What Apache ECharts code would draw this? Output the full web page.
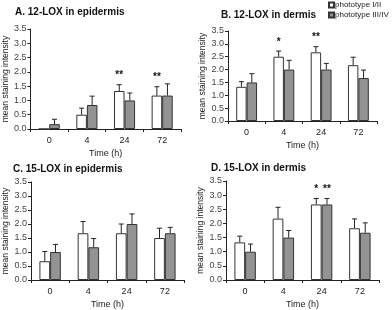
<!DOCTYPE html>
<html><head><meta charset="utf-8">
<script src="https://cdn.jsdelivr.net/npm/echarts@6/dist/echarts.min.js"></script>
<style>html,body{margin:0;padding:0;background:#fff}#c{width:392px;height:310px}</style>
</head><body><div id="c"></div>
<script>
const categories = ['0', '4', '24', '72'];
const seriesNames = ['phototype I/II', 'phototype III/IV'];
const titles = ['A. 12-LOX in epidermis', 'B. 12-LOX in dermis', 'C. 15-LOX in epidermis', 'D. 15-LOX in dermis'];
const yTicks = [0, 0.5, 1.0, 1.5, 2.0, 2.5, 3.0, 3.5];

// Panel A
const aWhite = [0, 0.5, 1.33, 1.17];
const aWhiteErr = [0, 0.23, 0.22, 0.31];
const aGray = [0.17, 0.84, 1.0, 1.17];
const aGrayErr = [0.17, 0.31, 0.26, 0.41];
const aWhiteStars = ['', '', '**', '**'];
const aGrayStars = ['', '', '', ''];
// Panel B
const bWhite = [1.33, 2.5, 2.67, 2.17];
const bWhiteErr = [0.2, 0.22, 0.22, 0.31];
const bGray = [1.5, 2.0, 2.0, 1.67];
const bGrayErr = [0.34, 0.36, 0.24, 0.31];
const bWhiteStars = ['', '*', '**', ''];
const bGrayStars = ['', '', '', ''];
// Panel C
const cWhite = [0.67, 1.67, 1.67, 1.5];
const cWhiteErr = [0.35, 0.42, 0.33, 0.35];
const cGray = [1.0, 1.17, 2.0, 1.67];
const cGrayErr = [0.27, 0.31, 0.36, 0.21];
const cWhiteStars = ['', '', '', ''];
const cGrayStars = ['', '', '', ''];
// Panel D
const dWhite = [1.33, 2.17, 2.67, 1.83];
const dWhiteErr = [0.22, 0.4, 0.21, 0.33];
const dGray = [1.0, 1.5, 2.67, 1.67];
const dGrayErr = [0.27, 0.25, 0.21, 0.35];
const dWhiteStars = ['', '', '*', ''];
const dGrayStars = ['', '', '**', ''];

const panels = [
  {w: aWhite, we: aWhiteErr, g: aGray, ge: aGrayErr, ws: aWhiteStars, gs: aGrayStars},
  {w: bWhite, we: bWhiteErr, g: bGray, ge: bGrayErr, ws: bWhiteStars, gs: bGrayStars},
  {w: cWhite, we: cWhiteErr, g: cGray, ge: cGrayErr, ws: cWhiteStars, gs: cGrayStars},
  {w: dWhite, we: dWhiteErr, g: dGray, ge: dGrayErr, ws: dWhiteStars, gs: dGrayStars}
];

const grids = [
  {left: 28, top: 29, width: 153, height: 100},
  {left: 228, top: 31, width: 149, height: 90},
  {left: 31, top: 182, width: 153, height: 98.5},
  {left: 226, top: 181, width: 153, height: 99.5}
];
const titlePos = [
  {left: 15, top: 7}, {left: 221, top: 10}, {left: 13, top: 164}, {left: 211, top: 163}
];

const FONT = 'Liberation Sans, Arial, sans-serif';
const GAP = 0.44;
const WHITE = '#ffffff', GRAY = '#939393', EDGE = '#333333';

const option = {
  animation: false,
  textStyle: {fontFamily: FONT},
  title: titles.map((t, i) => ({
    text: t, left: titlePos[i].left, top: titlePos[i].top, padding: 0,
    textStyle: {fontSize: 10, fontWeight: 'bold', color: '#111', fontFamily: FONT}
  })),
  legend: {
    data: seriesNames, orient: 'vertical', left: 328, top: 1, padding: 0,
    itemWidth: 5, itemHeight: 5, itemGap: 2, icon: 'rect',
    textStyle: {fontSize: 8, color: '#222', fontFamily: FONT, padding: [0, 0, 0, -4]}
  },
  grid: grids.map(g => Object.assign({containLabel: false}, g)),
  xAxis: grids.map((g, i) => ({
    type: 'category', gridIndex: i, data: categories,
    name: 'Time (h)', nameLocation: 'middle', nameGap: 20,
    nameTextStyle: {fontSize: 9, color: '#222', fontFamily: FONT},
    axisLine: {lineStyle: {color: '#222', width: 1}},
    axisTick: {show: true, length: 3, lineStyle: {color: '#222'}},
    axisLabel: {fontSize: 9, color: '#222', margin: 7, fontFamily: FONT}
  })),
  yAxis: grids.map((g, i) => ({
    type: 'value', gridIndex: i, min: yTicks[0], max: yTicks[yTicks.length - 1], interval: 0.5,
    name: 'mean staining intensity', nameLocation: 'middle', nameGap: 18,
    nameTextStyle: {fontSize: 8.5, color: '#222', fontFamily: FONT},
    axisLine: {show: true, lineStyle: {color: '#222', width: 1}},
    axisTick: {show: true, length: 3, lineStyle: {color: '#222'}},
    splitLine: {show: false},
    axisLabel: {fontSize: 9, color: '#444', margin: 4, fontFamily: FONT, formatter: v => v.toFixed(1)}
  })),
  series: []
};

panels.forEach((p, i) => {
  option.series.push({
    name: seriesNames[0], type: 'bar', xAxisIndex: i, yAxisIndex: i, data: p.w,
    barGap: '0%', barCategoryGap: (GAP * 100) + '%',
    itemStyle: {color: WHITE, borderColor: EDGE, borderWidth: 1}
  });
  option.series.push({
    name: seriesNames[1], type: 'bar', xAxisIndex: i, yAxisIndex: i, data: p.g,
    barGap: '0%', barCategoryGap: (GAP * 100) + '%',
    itemStyle: {color: GRAY, borderColor: EDGE, borderWidth: 1}
  });
  const errData = [];
  categories.forEach((c, k) => {
    errData.push([k, p.w[k], p.we[k], -1, p.ws[k]]);
    errData.push([k, p.g[k], p.ge[k], 1, p.gs[k]]);
  });
  option.series.push({
    type: 'custom', xAxisIndex: i, yAxisIndex: i, data: errData, z: 5,
    renderItem: (params, api) => {
      const k = api.value(0), v = api.value(1), e = api.value(2), side = api.value(3);
      const star = errData[params.dataIndex][4];
      const bw = api.size([1, 0])[0] * (1 - GAP) / 2;
      const base = api.coord([k, v]);
      const x = base[0] + side * bw / 2;
      const top = api.coord([k, v + e])[1];
      const children = [];
      if (e > 0) {
        children.push({type: 'line', shape: {x1: x, y1: base[1], x2: x, y2: top}, style: {stroke: '#222', lineWidth: 1}});
        children.push({type: 'line', shape: {x1: x - 2.5, y1: top, x2: x + 2.5, y2: top}, style: {stroke: '#222', lineWidth: 1}});
      }
      if (star) {
        children.push({type: 'text', style: {text: star, x: x, y: top - 4, textAlign: 'center', textVerticalAlign: 'bottom', fontSize: 10, fontWeight: 'bold', fill: '#111', fontFamily: FONT}});
      }
      return {type: 'group', children: children};
    }
  });
});

const chart = echarts.init(document.getElementById('c'), null, {renderer: 'canvas'});
chart.setOption(option);
</script>
</body></html>
